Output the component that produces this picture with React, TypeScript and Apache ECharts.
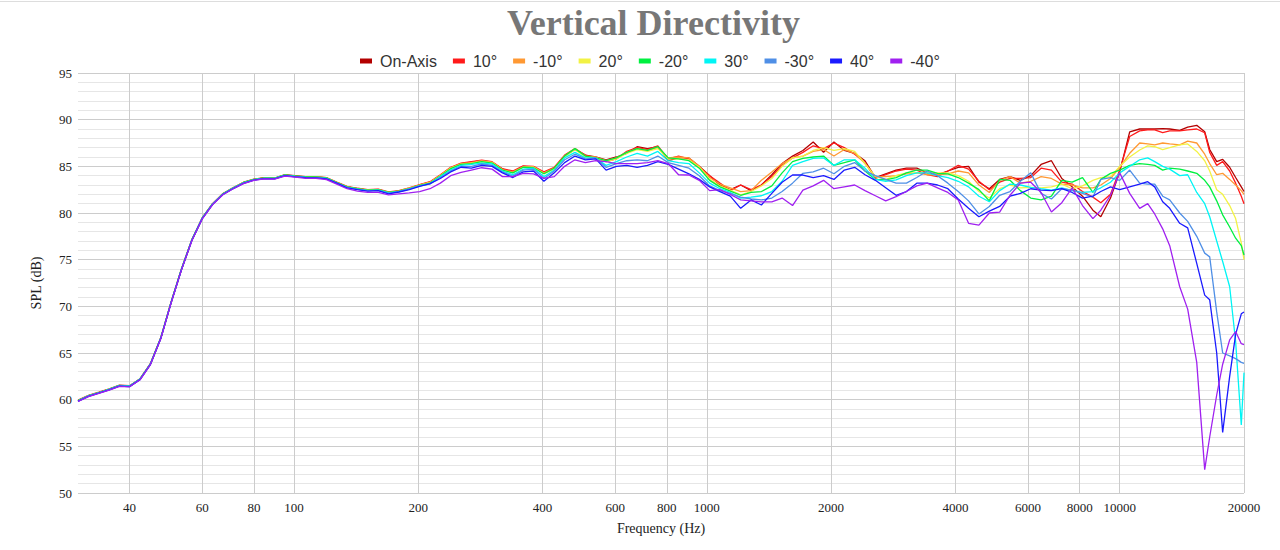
import React, { useEffect, useRef } from "react";
import * as echarts from "echarts";

const FREQS = [
  30, 31.8, 33.7, 35.7, 37.8, 40, 42.4, 44.9, 47.6, 50.4,
  53.4, 56.6, 60, 63.5, 67.3, 71.3, 75.5, 80, 84.8, 89.8,
  95.1, 100.8, 106.8, 113.1, 119.9, 127, 134.5, 142.5, 151, 160,
  169.5, 179.6, 190.3, 201.6, 213.6, 226.3, 239.7, 254, 269.1, 285.1,
  302, 320, 339, 359.2, 380.5, 403.2, 427.2, 452.5, 479.4, 508,
  538.2, 570.2, 604.1, 640, 678, 718.4, 761.1, 806.4, 854.3, 905.1,
  958.9, 1016, 1076, 1140, 1208, 1280, 1356, 1437, 1522, 1613,
  1709, 1810, 1918, 2032, 2153, 2281, 2416, 2560, 2712, 2874,
  3044, 3225, 3417, 3620, 3836, 4064, 4305, 4561, 4833, 5120,
  5424, 5747, 6089, 6451, 6834, 7241, 7671, 8127,
  8611, 9000, 9500, 10000, 10573, 11178, 11690, 12155, 12709, 13216,
  13974, 14610, 15366, 16064, 16518, 17176, 17757, 18464, 19089, 19700, 20000,
];

const SERIES_NAMES = ["On-Axis", "10°", "-10°", "20°", "-20°", "30°", "-30°", "40°", "-40°"];
const COLORS = ["#b30000", "#ff1a1a", "#ff9933", "#f2f244", "#00f040", "#00f5f5", "#4f8fe6", "#1a1aff", "#a020f0"];

const ON_AXIS = [
  59.9, 60.4, 60.75, 61.1, 61.5, 61.45, 62.2, 63.8, 66.6, 70.4, 73.95, 77.1, 79.45, 80.95, 82.03, 82.68, 83.25, 83.58, 83.75, 83.71, 84.05, 83.95, 83.85, 83.85, 83.75, 83.25, 82.8, 82.6, 82.45, 82.5, 82.2, 82.35, 82.65,
  83.0, 83.3, 84.0, 84.8, 85.3, 85.45, 85.6, 85.4, 84.7, 84.4, 85.0, 84.9, 84.3, 84.8, 86.1, 86.8, 86.2, 86.0, 85.7, 86.0, 86.4, 87.1, 86.9, 87.1, 85.6, 85.9, 85.9, 85.0,
  84.0, 83.0, 82.5, 83.0, 82.4, 83.0, 84.1, 85.3, 86.1, 86.7, 87.6, 86.5, 87.6, 86.7, 86.4, 85.6, 83.8, 84.2, 84.6, 84.8, 84.8, 84.3, 84.1, 84.5, 84.9, 85.0, 83.3, 82.6, 83.6, 83.9, 83.5, 84.0, 85.2, 85.6, 83.7, 82.8, 81.8,
  80.3, 79.6, 81.6, 84.4, 88.7, 89.0, 89.0, 89.0, 89.05, 89.0, 88.85, 89.2, 89.4, 88.7, 86.8, 85.5, 85.75, 84.9, 83.8, 82.8, 82.3,
];
const UP_10 = [
  59.95, 60.45, 60.8, 61.15, 61.55, 61.5, 62.25, 63.85, 66.65, 70.45, 74.0, 77.15, 79.5, 81.0, 82.08, 82.72, 83.3, 83.62, 83.78, 83.75, 84.1, 84.0, 83.9, 83.9, 83.8, 83.3, 82.85, 82.65, 82.5, 82.55, 82.25, 82.4, 82.7,
  83.05, 83.35, 84.1, 84.9, 85.35, 85.5, 85.65, 85.5, 84.75, 84.5, 85.05, 85.0, 84.4, 84.9, 86.2, 86.9, 86.2, 85.9, 85.5, 85.8, 86.6, 87.0, 86.8, 87.2, 85.8, 86.1, 85.8, 84.9,
  84.0, 83.2, 82.4, 83.0, 82.5, 83.0, 83.9, 85.1, 85.9, 86.5, 87.2, 86.9, 87.5, 87.0, 86.3, 85.4, 83.7, 84.1, 84.5, 84.7, 84.6, 84.1, 83.9, 84.5, 85.1, 84.7, 83.4, 82.5, 83.3, 83.7, 83.7, 83.8, 84.8, 84.6, 83.3, 83.1, 82.3,
  81.7, 81.1, 82.0, 84.6, 88.2, 88.8, 88.9, 88.9, 88.6, 88.8, 88.8, 88.9, 89.0, 88.6, 86.5, 85.1, 85.5, 84.5, 83.2, 81.8, 81.0,
];
const DOWN_10 = [
  59.9, 60.4, 60.75, 61.1, 61.5, 61.45, 62.2, 63.8, 66.6, 70.4, 73.95, 77.1, 79.45, 80.95, 82.03, 82.68, 83.25, 83.6, 83.75, 83.72, 84.05, 83.95, 83.88, 83.88, 83.78, 83.28, 82.82, 82.62, 82.48, 82.52, 82.22, 82.38, 82.68,
  83.0, 83.3, 84.05, 84.85, 85.3, 85.4, 85.6, 85.45, 84.65, 84.4, 84.95, 84.95, 84.3, 84.8, 86.1, 86.9, 86.1, 86.0, 85.6, 85.9, 86.5, 86.9, 86.7, 87.0, 85.9, 86.0, 85.9, 85.0,
  83.8, 83.1, 82.7, 82.3, 82.4, 83.5, 84.4, 85.3, 85.9, 86.1, 86.6, 86.8, 86.1, 86.8, 86.4, 85.3, 83.9, 83.9, 84.0, 84.2, 84.3, 84.1, 84.1, 84.2, 84.5, 84.3, 83.0, 82.2, 83.5, 83.9, 83.2, 83.4, 83.9, 83.7, 83.1, 83.0, 82.7,
  82.7, 83.0, 83.7, 84.9, 86.4, 87.5, 87.4, 87.3, 87.5, 87.4, 87.3, 87.7, 87.5, 86.3, 85.3, 84.1, 84.25, 83.6, 83.0, 82.4, 82.0,
];
const UP_20 = [
  59.85, 60.38, 60.72, 61.08, 61.48, 61.42, 62.18, 63.78, 66.58, 70.38, 73.92, 77.08, 79.42, 80.92, 82.0, 82.66, 83.22, 83.56, 83.72, 83.7, 84.02, 83.92, 83.83, 83.83, 83.73, 83.22, 82.78, 82.58, 82.42, 82.48, 82.18, 82.32, 82.62,
  82.95, 83.25, 84.0, 84.8, 85.2, 85.35, 85.5, 85.4, 84.6, 84.3, 84.9, 84.9, 84.2, 84.7, 86.0, 86.8, 86.0, 85.9, 85.5, 85.8, 86.4, 86.8, 86.6, 86.9, 85.8, 85.8, 85.7, 84.9,
  83.6, 82.9, 82.46, 81.95, 82.3, 82.9, 83.7, 85.0, 85.9, 86.1, 86.7, 87.0, 86.7, 86.9, 86.6, 85.3, 83.9, 83.6, 84.0, 84.3, 84.3, 84.4, 84.3, 84.3, 84.0, 83.4, 82.3, 81.6, 82.6, 83.0, 82.7, 82.75, 82.7, 82.8, 83.1, 82.6, 82.9,
  83.5, 83.8, 83.9, 85.0, 86.0, 86.75, 87.2, 87.1, 86.8, 87.0, 87.3, 87.4, 86.6, 85.6, 84.5, 82.5, 82.0, 80.8, 79.4, 76.8, 75.0,
];
const DOWN_20 = [
  59.9, 60.42, 60.76, 61.12, 61.52, 61.47, 62.22, 63.82, 66.62, 70.42, 73.97, 77.12, 79.47, 80.97, 82.05, 82.7, 83.27, 83.6, 83.77, 83.73, 84.08, 83.97, 83.87, 83.86, 83.76, 83.25, 82.8, 82.6, 82.45, 82.5, 82.2, 82.35, 82.62,
  82.95, 83.2, 83.95, 84.75, 85.2, 85.3, 85.5, 85.35, 84.6, 84.3, 84.9, 84.85, 84.2, 84.8, 86.1, 86.9, 86.1, 85.9, 85.6, 85.9, 86.5, 86.9, 86.7, 87.1, 85.9, 85.8, 85.6, 84.8,
  83.5, 82.8, 82.35, 81.9, 82.2, 82.3, 82.9, 84.3, 85.5, 85.86, 86.0, 86.1, 85.1, 85.4, 85.7, 84.5, 83.6, 83.55, 83.8, 84.3, 84.6, 84.6, 84.25, 84.2, 83.8, 83.2, 82.5, 81.3, 83.6, 83.5, 82.4, 81.6, 81.4, 81.8, 83.5, 83.3, 83.8,
  82.2, 83.6, 84.25, 84.6, 85.1, 85.3, 85.2, 85.1, 84.6, 84.8, 84.7, 84.5, 84.25, 83.5, 82.8, 81.3, 79.8, 78.5, 77.3, 76.5, 75.5,
];
const UP_30 = [
  59.88, 60.4, 60.74, 61.1, 61.5, 61.45, 62.2, 63.8, 66.6, 70.4, 73.95, 77.1, 79.45, 80.95, 82.02, 82.66, 83.22, 83.56, 83.72, 83.7, 84.03, 83.92, 83.82, 83.8, 83.7, 83.2, 82.75, 82.55, 82.4, 82.45, 82.15, 82.3, 82.58,
  82.9, 83.15, 83.9, 84.6, 85.1, 85.2, 85.35, 85.25, 84.5, 84.1, 84.7, 84.8, 83.9, 84.6, 85.9, 86.5, 85.9, 85.9, 85.1, 85.5, 86.0, 86.4, 86.1, 86.6, 85.6, 85.4, 85.3, 84.3,
  83.2, 82.6, 82.2, 81.6, 81.7, 81.85, 82.3, 83.4, 85.1, 85.5, 85.86, 85.9, 85.1, 85.7, 85.7, 84.8, 83.6, 83.4, 83.55, 84.0, 84.3, 84.3, 84.0, 83.8, 83.4, 82.8, 81.8, 81.2, 82.4, 83.1, 83.0, 82.75, 82.6, 82.46, 82.7, 82.4, 82.2,
  82.3, 82.7, 83.3, 84.3, 85.0, 85.7, 85.9, 85.5, 85.0, 84.7, 84.0, 84.1, 82.2, 81.0, 79.6, 77.0, 74.8, 72.1, 66.2, 57.3, 62.9,
];
const DOWN_30 = [
  59.85, 60.38, 60.72, 61.08, 61.48, 61.43, 62.18, 63.78, 66.58, 70.38, 73.93, 77.08, 79.43, 80.93, 82.0, 82.64, 83.2, 83.54, 83.7, 83.68, 84.0, 83.9, 83.8, 83.78, 83.68, 83.2, 82.72, 82.52, 82.38, 82.42, 82.1, 82.28, 82.55,
  82.9, 83.1, 83.8, 84.5, 85.0, 85.0, 85.25, 85.1, 84.4, 83.95, 84.6, 84.7, 83.7, 84.5, 85.7, 86.3, 85.8, 85.9, 84.9, 85.3, 85.6, 85.7, 85.6, 86.1, 85.4, 85.1, 84.8, 84.0,
  82.9, 82.4, 82.1, 81.7, 81.5, 81.4, 81.6, 82.3, 83.2, 84.25, 84.4, 84.8, 84.2, 85.0, 85.4, 84.5, 84.0, 83.6, 83.2, 83.2, 83.8, 84.5, 84.0, 83.2, 82.3, 81.3, 79.9, 80.7, 81.9, 82.3, 83.4, 84.3, 82.1, 81.5, 82.6, 82.46, 82.1,
  81.7, 83.6, 83.8, 83.5, 84.6, 83.2, 83.1, 83.1, 81.8, 81.4, 80.0, 79.1, 77.5, 75.7, 75.3, 69.4, 65.0, 64.7, 64.4, 64.0, 63.9,
];
const UP_40 = [
  59.82, 60.35, 60.7, 61.05, 61.45, 61.4, 62.15, 63.75, 66.55, 70.35, 73.9, 77.05, 79.4, 80.9, 81.98, 82.62, 83.18, 83.52, 83.68, 83.66, 84.0, 83.88, 83.78, 83.76, 83.66, 83.2, 82.7, 82.5, 82.35, 82.4, 82.05, 82.25, 82.5,
  82.85, 83.15, 83.7, 84.4, 84.9, 84.8, 85.1, 85.0, 84.3, 83.8, 84.4, 84.5, 83.4, 84.3, 85.4, 86.1, 85.7, 85.8, 84.6, 85.0, 85.1, 84.9, 85.1, 85.5, 85.2, 84.7, 84.2, 83.6,
  82.8, 82.3, 81.8, 80.5, 81.4, 80.86, 82.1, 83.3, 84.07, 84.07, 83.8, 84.0, 83.6, 84.6, 84.9, 84.1, 83.5, 82.7, 81.9, 82.3, 83.2, 83.2, 83.0, 82.6, 81.5, 80.5, 79.6, 80.2, 80.7, 81.8, 82.1, 82.6, 82.46, 82.4, 82.6, 82.2, 81.6,
  81.8, 82.3, 82.8, 82.5, 82.8, 83.1, 83.35, 82.8, 81.2, 80.5, 78.9, 78.4, 74.6, 71.2, 70.7, 65.0, 56.5, 62.5, 67.0, 69.2, 69.4,
];
const DOWN_40 = [
  59.8, 60.33, 60.68, 61.03, 61.43, 61.38, 62.13, 63.73, 66.53, 70.33, 73.88, 77.03, 79.38, 80.88, 81.96, 82.6, 83.15, 83.5, 83.65, 83.62, 83.95, 83.84, 83.72, 83.7, 83.58, 83.1, 82.6, 82.35, 82.2, 82.2, 81.95, 82.05, 82.15,
  82.3, 82.6, 83.2, 84.0, 84.35, 84.6, 84.85, 84.7, 83.9, 83.9, 84.25, 84.2, 83.7, 83.9, 85.0, 85.7, 85.4, 85.6, 85.5, 85.3, 85.3, 85.3, 85.4, 85.6, 85.3, 84.1, 84.07, 83.5,
  82.4, 82.5, 82.0, 81.4, 81.3, 81.2, 81.2, 81.6, 80.8, 82.45, 82.9, 83.5, 82.6, 82.8, 83.0, 82.4, 81.85, 81.3, 81.75, 82.3, 82.9, 83.2, 82.7, 82.2, 81.4, 78.9, 78.7, 80.0, 80.1, 81.9, 83.2, 83.3, 82.2, 80.1, 81.1, 82.7, 80.8,
  79.4, 80.3, 81.9, 84.3, 82.1, 80.5, 81.0, 79.9, 78.3, 76.5, 72.1, 69.7, 64.0, 52.5, 56.0, 60.5, 63.8, 66.4, 67.3, 66.0, 65.9,
];

const SERIES_VALUES = [ON_AXIS, UP_10, DOWN_10, UP_20, DOWN_20, UP_30, DOWN_30, UP_40, DOWN_40];

const X_TICKS = [40, 60, 80, 100, 200, 400, 600, 800, 1000, 2000, 4000, 6000, 8000, 10000, 20000];
const X_MIN = 30;
const X_MAX = 20000;
const Y_MIN = 50;
const Y_MAX = 95;
const Y_STEP = 5;

const SERIF = "'Liberation Serif', 'Times New Roman', serif";
const SANS = "'Liberation Sans', Arial, sans-serif";

export default function App() {
  const ref = useRef<HTMLDivElement>(null);

  useEffect(() => {
    if (!ref.current) return;
    const chart = echarts.init(ref.current, null, { renderer: "svg" });
    const lx = (f: number) => Math.log10(f);
    const tickVals = X_TICKS.map(lx);

    chart.setOption({
      animation: false,
      backgroundColor: "#ffffff",
      title: {
        text: "Vertical Directivity",
        left: 507,
        top: 5,
        padding: 0,
        textStyle: { fontFamily: SERIF, fontSize: 36, fontWeight: "bold", color: "#777777" },
      },
      legend: {
        top: 53,
        left: 360,
        padding: 0,
        icon: "rect",
        itemWidth: 12,
        itemHeight: 5,
        itemGap: 16,
        data: SERIES_NAMES,
        textStyle: { fontFamily: SANS, fontSize: 16, color: "#333333", padding: [0, 0, 0, 3] },
      },
      graphic: [
        {
          type: "line",
          shape: { x1: 0, y1: 1.5, x2: 1280, y2: 1.5 },
          style: { stroke: "#dddddd", lineWidth: 1 },
          silent: true,
        },
      ],
      grid: { left: 78, right: 36, top: 73, bottom: 57, containLabel: false },
      xAxis: {
        type: "value",
        min: lx(X_MIN),
        max: lx(X_MAX),
        name: "Frequency (Hz)",
        nameLocation: "middle",
        nameGap: 28,
        nameTextStyle: { fontFamily: SERIF, fontSize: 14, color: "#222222" },
        axisLine: { show: false },
        axisTick: { show: false, customValues: tickVals },
        axisLabel: {
          customValues: tickVals,
          formatter: (v: number) => String(Math.round(Math.pow(10, v))),
          fontFamily: SERIF,
          fontSize: 13,
          color: "#222222",
          margin: 8,
        },
        splitLine: { show: true, lineStyle: { color: "#cccccc", width: 1 } },
      },
      yAxis: {
        type: "value",
        min: Y_MIN,
        max: Y_MAX,
        interval: Y_STEP,
        name: "SPL (dB)",
        nameLocation: "middle",
        nameGap: 35,
        nameRotate: 90,
        nameTextStyle: { fontFamily: SERIF, fontSize: 14, color: "#222222" },
        axisLine: { show: false },
        axisTick: { show: false },
        axisLabel: { fontFamily: SERIF, fontSize: 13, color: "#222222", margin: 6 },
        splitLine: { show: true, lineStyle: { color: "#cccccc", width: 1 } },
        minorTick: { show: false, splitNumber: 5 },
        minorSplitLine: { show: true, lineStyle: { color: "#e6e6e6", width: 1 } },
      },
      series: SERIES_NAMES.map((name, si) => ({
        name,
        type: "line",
        showSymbol: false,
        symbol: "none",
        itemStyle: { color: COLORS[si] },
        lineStyle: { color: COLORS[si], width: 1.3 },
        data: FREQS.map((f, i) => [lx(f), SERIES_VALUES[si][i]]),
      })),
    });

    return () => chart.dispose();
  }, []);

  return (
    <div
      ref={ref}
      style={{ position: "fixed", left: 0, top: 0, width: 1280, height: 550, background: "#fff" }}
    />
  );
}
